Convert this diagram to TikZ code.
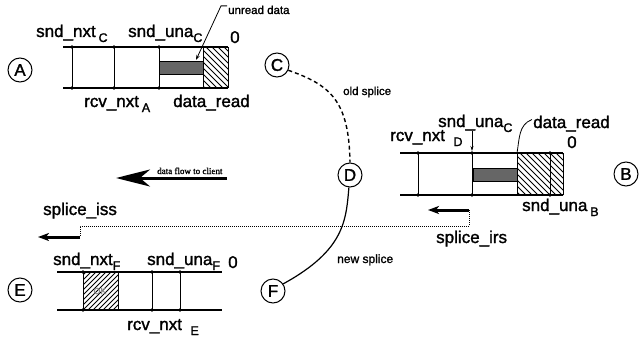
\documentclass[tikz,border=0pt]{standalone}
\usepackage{fontspec}
\setmainfont[FakeBold=1.5]{Liberation Sans}
\newfontfamily\flowfont[FakeBold=1.5]{Liberation Serif}
\usetikzlibrary{arrows.meta}

\newcommand{\seqlbl}[3][\,]{#2#1\raisebox{-5pt}{\fontsize{12.5}{12}\selectfont #3}}

\begin{document}
\begin{tikzpicture}[x=1pt,y=-1pt,
  every node/.style={inner sep=0pt, font=\fontsize{17}{17}\selectfont},
  host/.style={draw,circle,line width=1pt,minimum size=24pt},
  lbl/.style={anchor=base west},
  small/.style={anchor=base west, font=\fontsize{11.5}{12}\selectfont},
  rail/.style={line width=1.8pt},
  cut/.style={line width=1pt},
  junc/.style={circle,fill,inner sep=1.3pt},
  unread/.style={fill=black!60},
  hatchline/.style={line width=.8pt},
  splice/.style={line width=3pt,-{Stealth[length=11pt,width=8pt,inset=3pt]}}]
  \useasboundingbox (0,0) rectangle (639,337);

  % hosts
  \node[host] (A) at (20,70) {A};
  \node[host] (B) at (626,174) {B};
  \node[host] (C) at (277,65) {C};
  \node[host] (D) at (350,175) {D};
  \node[host] (E) at (20,290) {E};
  \node[host] (F) at (273,291) {F};

  % buffer at A
  \begin{scope}
    \clip (203,47) rectangle (228,88);
    \foreach \s in {-45,-39,...,30}{\draw[hatchline] (203+\s,47) -- ++(45,45);}
  \end{scope}
  \draw[unread] (159,61) rectangle (203,74);
  \draw[rail] (63,47) -- (228,47) (63,88) -- (228,88);
  \foreach \x in {72,114,159,203,228}{\draw[cut] (\x,47) -- (\x,88);}
  \foreach \x in {72,114,159}{\node[junc] at (\x,47) {}; \node[junc] at (\x,88) {};}
  \node[lbl] (nxtC) at (36,37) {\seqlbl{snd\_nxt}{C}};
  \node[lbl] (unaCa) at (128,37) {\seqlbl[]{snd\_una}{C}};
  \node[lbl] (zeroA) at (230,43) {0};
  \node[lbl] (rcvA) at (84,107) {\seqlbl{rcv\_nxt}{A}};
  \node[lbl] (readA) at (173,107) {data\_read};
  \node[small] (unread) at (228,14) {unread data};
  \coordinate (unreadtip) at (196,60);
  \draw[line width=.8pt,-{Stealth[length=5pt,width=3.5pt]}] (unread.west) ++(-1,-4) -- ++(-6,0) -- (unreadtip);

  % buffer at B
  \begin{scope}
    \clip (517,153) rectangle (563,195);
    \foreach \s in {-45,-39,...,48}{\draw[hatchline] (517+\s,153) -- ++(45,45);}
  \end{scope}
  \draw[unread] (473,168) rectangle (517,181);
  \draw[rail] (400,153) -- (563,153) (400,195) -- (563,195);
  \foreach \x in {418,472,517,550,563}{\draw[cut] (\x,153) -- (\x,195);}
  \foreach \x in {418,472,550}{\node[junc] at (\x,153) {}; \node[junc] at (\x,195) {};}
  \node[lbl] (unaCb) at (438,127) {\seqlbl[]{snd\_una}{C}};
  \coordinate (unaCtip) at (472,151);
  \draw[line width=.6pt,-{Stealth[length=5pt,width=3pt]}] (472,131) -- (unaCtip);
  \node[lbl] (rcvD) at (390,141) {\seqlbl[\enspace]{rcv\_nxt}{D}};
  \node[lbl] (readB) at (533,128) {data\_read};
  \draw[line width=.8pt] (readB.west) ++(-1,-4) to[out=200,in=80] (517,153);
  \node[lbl] (zeroB) at (567,148) {0};
  \node[lbl] (unaB) at (522,211) {\seqlbl{snd\_una}{B}};

  % buffer at E
  \begin{scope}
    \clip (83,272) rectangle (118,310);
    \foreach \s in {-40,-35,...,40}{\draw[hatchline] (83+\s,310) -- ++(40,-40);}
  \end{scope}
  \draw[rail] (57,272) -- (222,272) (57,310) -- (222,310);
  \foreach \x in {83,118,152,180}{\draw[cut] (\x,272) -- (\x,310);}
  \foreach \x in {83,152,180}{\node[junc] at (\x,272) {}; \node[junc] at (\x,310) {};}
  \node[text=black!45,font=\fontsize{9}{9}\selectfont] (ok) at (100,291) {OK};
  \node[lbl] (nxtF) at (53,265) {\seqlbl[]{snd\_nxt}{F}};
  \node[lbl] (unaF) at (147,265) {\seqlbl[]{snd\_una}{F}};
  \node[lbl] (zeroE) at (228,268) {0};
  \node[lbl] (rcvE) at (127,330) {\seqlbl[\enspace]{rcv\_nxt}{E}};

  % data flow
  \coordinate (flowfrom) at (227,178);
  \coordinate (flowto) at (116,178);
  \draw[line width=3pt,-{Stealth[length=34pt,width=17pt,inset=10pt]}] (flowfrom) -- (flowto);
  \node[anchor=base west,font=\flowfont\fontsize{9}{9}\selectfont] (flow) at (157,174) {data flow to client};

  % splices
  \draw[line width=1.4pt,dash pattern=on 4pt off 3pt] (C.-25) .. controls (330,85) and (349,100) .. (D.north);
  \node[small] (old) at (343,95) {old splice};
  \draw[line width=1.2pt] (D.265) .. controls (346,220) and (345,250) .. (F.35);
  \node[small,font=\fontsize{12}{12}\selectfont] (new) at (337,263) {new splice};

  \coordinate (irs) at (469,210);
  \coordinate (irsto) at (428,210);
  \coordinate (iss) at (80,237);
  \coordinate (issto) at (38,237);
  \draw[splice] (irs) -- (irsto);
  \draw[splice] (iss) -- (issto);
  \draw[line width=1pt,dash pattern=on 1pt off 1pt] (irs) -- (469,226) -- (80,226) -- (iss);
  \node[lbl] (irslbl) at (436,243) {splice\_irs};
  \node[lbl] (isslbl) at (43,215) {splice\_iss};
\end{tikzpicture}
\end{document}
